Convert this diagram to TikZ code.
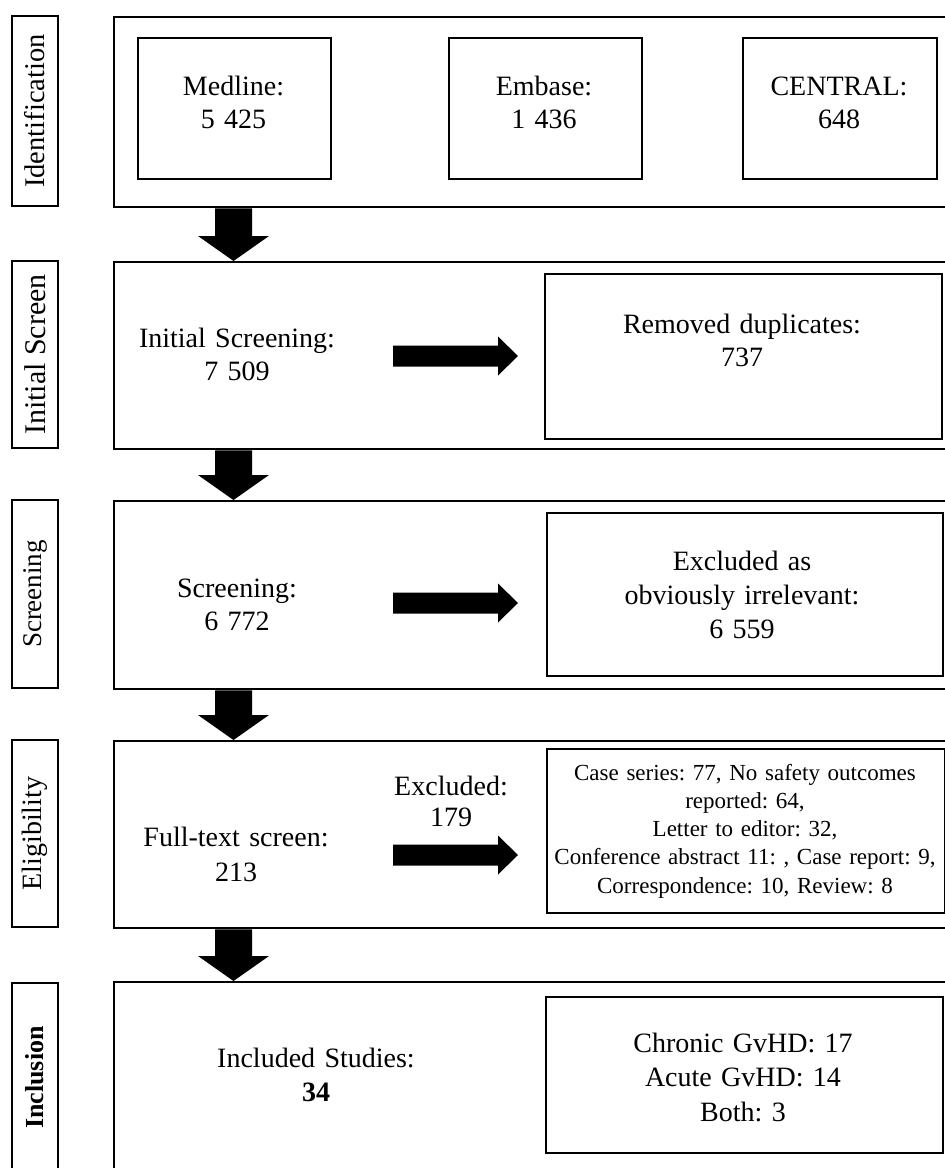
\documentclass[tikz,border=0pt]{standalone}
\usepackage{fontspec}
\setmainfont{Liberation Serif}
\usetikzlibrary{calc}
\frenchspacing
\newcommand\fatdown[2]{\fill let \p1=#1, \p2=#2 in
  (\x1-18.5pt,\y1) -- (\x1+18.5pt,\y1) -- (\x1+18.5pt,\y2+25pt) -- (\x1+35.5pt,\y2+25pt)
  -- (\x1,\y2) -- (\x1-35.5pt,\y2+25pt) -- (\x1-18.5pt,\y2+25pt) -- cycle;}
\newcommand\fatright[2]{\fill let \p1=#1, \p2=#2 in
  (\x1,\y1-10.5pt) -- (\x2-20pt,\y1-10.5pt) -- (\x2-20pt,\y1-19.5pt) -- (\x2,\y1)
  -- (\x2-20pt,\y1+19.5pt) -- (\x2-20pt,\y1+10.5pt) -- (\x1,\y1+10.5pt) -- cycle;}
\begin{document}
\begin{tikzpicture}[x=1pt,y=-1pt,
  box/.style={draw=black, line width=2.3pt, rectangle, inner sep=0pt, anchor=north west},
  txt/.style={font=\fontsize{28}{33.5}\selectfont\frenchspacing, align=center, inner sep=0pt, anchor=base, text width=#1},
  txt/.default=250pt,
  small/.style={font=\fontsize{23}{28.3}\selectfont\frenchspacing, align=center, inner sep=0pt, anchor=base, text width=#1},
  side/.style={draw=black, line width=2.3pt, rectangle, inner sep=0pt, rotate=90,
    minimum height=46pt, font=\fontsize{#1}{#1}\selectfont},
]
\useasboundingbox (0,0) rectangle (945,1168);
\clip (0,0) rectangle (945,1168);
\fill[white] (0,0) rectangle (945,1168);

% side labels
\node[side=28.5, minimum width=190pt] (l1) at (35,111) {Identification};
\node[side=30, minimum width=187pt] (l2) at (35,354.5) {Initial Screen};
\node[side=27, minimum width=188pt] (l3) at (35,594) {Screening};
\node[side=28, minimum width=187pt] (l4) at (35,833.5) {Eligibility};
\node[side=26, minimum width=189pt] (l5) at (35,1077.5) {\bfseries Inclusion};

% outer stage boxes
\node[box, minimum width=839pt, minimum height=190pt] (o1) at (113,16) {};
\node[box, minimum width=839pt, minimum height=187pt] (o2) at (113,261) {};
\node[box, minimum width=839pt, minimum height=188pt] (o3) at (113,500) {};
\node[box, minimum width=839pt, minimum height=187pt] (o4) at (113,740) {};
\node[box, minimum width=839pt, minimum height=191pt] (o5) at (113,981) {};

% inner boxes
\node[box, minimum width=193pt, minimum height=141pt] (med) at (137,37) {};
\node[box, minimum width=193pt, minimum height=141pt] (emb) at (448,37) {};
\node[box, minimum width=194pt, minimum height=141pt] (cen) at (742,37) {};
\node[box, minimum width=397pt, minimum height=165pt] (dup) at (544,273) {};
\node[box, minimum width=396pt, minimum height=163pt] (irr) at (546,512) {};
\node[box, minimum width=398pt, minimum height=164pt] (rsn) at (546,748) {};
\node[box, minimum width=397pt, minimum height=156pt] (res) at (545,996) {};

% texts
\node[txt=180pt] (tmed) at (233.5,95) {Medline:\\5 425};
\node[txt=180pt] (temb) at (544,95) {Embase:\\1 436};
\node[txt=180pt] (tcen) at (839,95) {CENTRAL:\\648};
\node[txt=240pt] (tini) at (237,347) {Initial Screening:\\7 509};
\node[txt=300pt] (tdup) at (742,333) {Removed duplicates:\\737};
\node[txt=240pt] (tscr) at (237,597) {Screening:\\6 772};
\node[font=\fontsize{28}{34}\selectfont, align=center, inner sep=0pt, anchor=base, text width=300pt] (tirr) at (742,570) {Excluded as\\obviously irrelevant:\\6 559};
\node[font=\fontsize{28}{35}\selectfont, align=center, inner sep=0pt, anchor=base, text width=240pt] (tful) at (236,846) {Full-text screen:\\213};
\node[font=\fontsize{28}{31}\selectfont, align=center, inner sep=0pt, anchor=base, text width=130pt] (texc) at (451,795) {Excluded:\\179};
\node[small=392pt] (trsn) at (745,780) {Case series: 77, No safety outcomes\\reported: 64,\\Letter to editor: 32,\\Conference abstract 11: , Case report: 9,\\Correspondence: 10, Review: 8};
\node[font=\fontsize{28}{34}\selectfont, align=center, inner sep=0pt, anchor=base, text width=240pt] (tinc) at (316,1067) {Included Studies:\\\textbf{34}};
\node[font=\fontsize{28}{34.5}\selectfont, align=center, inner sep=0pt, anchor=base, text width=300pt] (tres) at (743,1052) {Chronic GvHD: 17\\Acute GvHD: 14\\Both: 3};

% down arrows between stages
\coordinate (ax) at (233.5,0);
\fatdown{(o1.south -| ax)}{(o2.north -| ax)}
\fatdown{(o2.south -| ax)}{(o3.north -| ax)}
\fatdown{(o3.south -| ax)}{(o4.north -| ax)}
\fatdown{(o4.south -| ax)}{(o5.north -| ax)}

% right arrows
\coordinate (r2a) at (393,356); \coordinate (r2b) at (518,356);
\coordinate (r3a) at (393,603); \coordinate (r3b) at (518,603);
\coordinate (r4a) at (393,855); \coordinate (r4b) at (518,855);
\fatright{(r2a)}{(r2b)}
\fatright{(r3a)}{(r3b)}
\fatright{(r4a)}{(r4b)}
\end{tikzpicture}
\end{document}
